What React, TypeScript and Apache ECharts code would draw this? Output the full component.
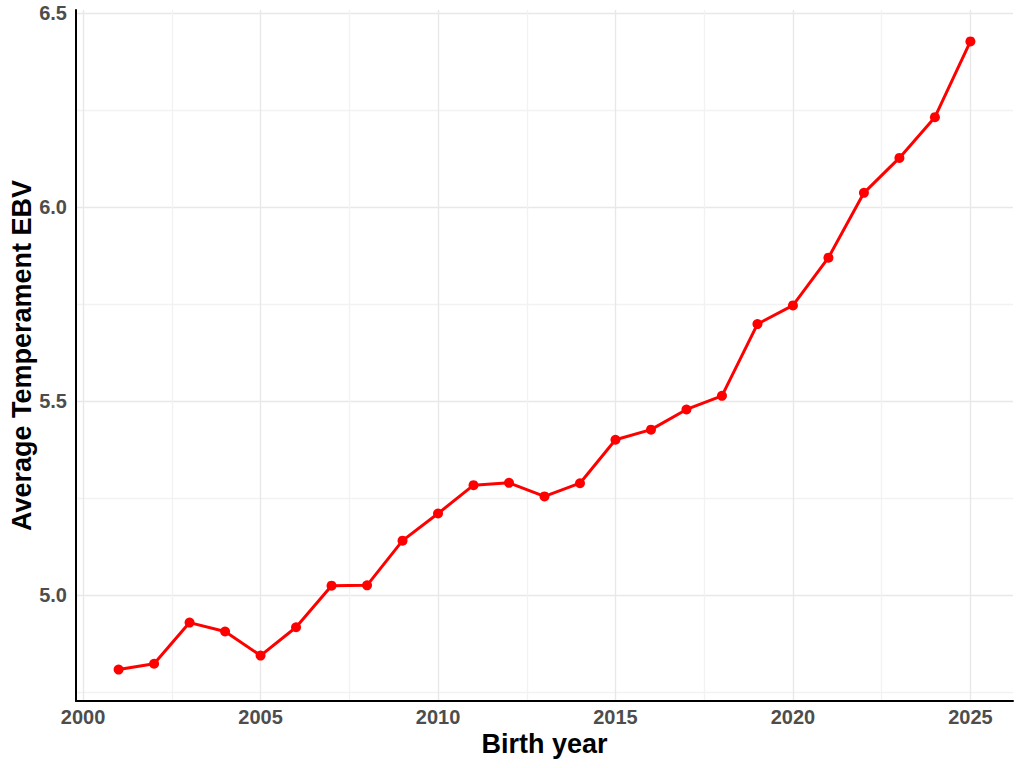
import React, { useEffect, useRef } from "react";
import * as echarts from "echarts";

const years: number[] = [
  2001, 2002, 2003, 2004, 2005, 2006, 2007, 2008, 2009, 2010, 2011, 2012, 2013,
  2014, 2015, 2016, 2017, 2018, 2019, 2020, 2021, 2022, 2023, 2024, 2025,
];
const avgEBV: number[] = [
  4.809, 4.824, 4.93, 4.907, 4.845, 4.918, 5.025, 5.026, 5.141, 5.211, 5.284,
  5.29, 5.255, 5.289, 5.401, 5.427, 5.479, 5.514, 5.699, 5.747, 5.87, 6.037,
  6.127, 6.232, 6.427,
];
const xTickLabels: number[] = [2000, 2005, 2010, 2015, 2020, 2025];
const xGridValues: number[] = [
  2000, 2002.5, 2005, 2007.5, 2010, 2012.5, 2015, 2017.5, 2020, 2022.5, 2025,
];
const yTickLabels: number[] = [5.0, 5.5, 6.0, 6.5];
const yGridValues: number[] = [4.75, 5.0, 5.25, 5.5, 5.75, 6.0, 6.25, 6.5];

const FONT = "'Liberation Sans', Arial, Helvetica, sans-serif";

export default function App() {
  const ref = useRef<HTMLDivElement>(null);
  useEffect(() => {
    if (!ref.current) return;
    const chart = echarts.init(ref.current, null, { renderer: "svg" });
    const xMin = 1999.8;
    const xMax = 2026.2;
    const yMin = 4.728;
    const yMax = 6.508;
    chart.setOption({
      animation: false,
      backgroundColor: "#ffffff",
      grid: {
        left: 76,
        right: 11,
        top: 10,
        bottom: 67,
        containLabel: false,
        outerBoundsMode: "none",
      },
      xAxis: {
        type: "value",
        min: xMin,
        max: xMax,
        name: "Birth year",
        nameLocation: "middle",
        nameGap: 29,
        nameMoveOverlap: false,
        nameTextStyle: {
          fontFamily: FONT,
          fontSize: 27,
          fontWeight: "bold",
          color: "#000000",
        },
        axisLine: { show: true, lineStyle: { color: "#000000", width: 2 } },
        axisTick: { show: false, customValues: xGridValues },
        axisLabel: {
          customValues: xTickLabels,
          formatter: (v: number) => String(Math.round(v)),
          fontFamily: FONT,
          fontSize: 20,
          fontWeight: "bold",
          color: "#4D4D4D",
          margin: 6,
        },
        splitLine: {
          show: true,
          lineStyle: { color: ["#E8E8E8", "#F2F2F2"], width: 1.4 },
        },
      },
      yAxis: {
        type: "value",
        min: yMin,
        max: yMax,
        name: "Average Temperament EBV",
        nameLocation: "middle",
        nameGap: 41,
        nameMoveOverlap: false,
        nameTextStyle: {
          fontFamily: FONT,
          fontSize: 27,
          fontWeight: "bold",
          color: "#000000",
        },
        axisLine: { show: true, lineStyle: { color: "#000000", width: 2 } },
        axisTick: { show: false, customValues: yGridValues },
        axisLabel: {
          customValues: yTickLabels,
          formatter: (v: number) => v.toFixed(1),
          fontFamily: FONT,
          fontSize: 20,
          fontWeight: "bold",
          color: "#4D4D4D",
          margin: 9,
        },
        splitLine: {
          show: true,
          lineStyle: { color: ["#F2F2F2", "#E8E8E8"], width: 1.4 },
        },
      },
      series: [
        {
          type: "line",
          data: years.map((y, i) => [y, avgEBV[i]]),
          symbol: "circle",
          symbolSize: 10,
          showSymbol: true,
          itemStyle: { color: "#FF0000" },
          lineStyle: { color: "#FF0000", width: 3 },
          z: 5,
        },
      ],
    });
    return () => chart.dispose();
  }, []);
  return (
    <div
      ref={ref}
      style={{ position: "fixed", left: 0, top: 0, width: 1024, height: 768 }}
    />
  );
}
